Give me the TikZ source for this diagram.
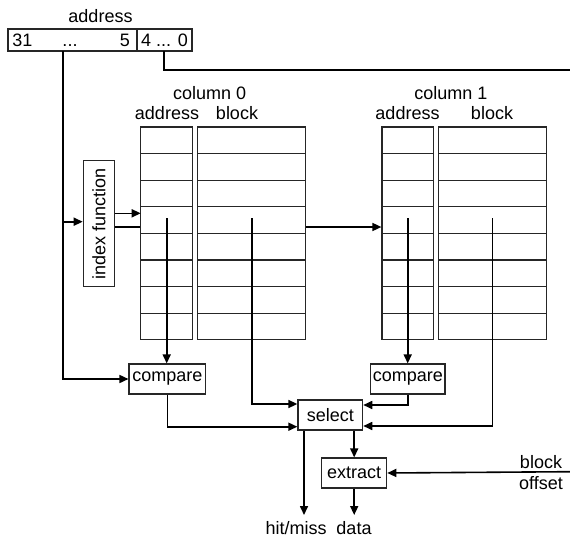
\documentclass[tikz,border=0pt]{standalone}
\usepackage{fontspec}
\setmainfont{Liberation Sans}
\usetikzlibrary{arrows.meta}
\begin{document}
\begin{tikzpicture}[x=1pt,y=-1pt,
  every node/.style={font=\fontsize{18}{21}\selectfont},
  lbl/.style={inner sep=0pt,text height=13pt,text depth=0pt},
  cell/.style={draw=black!85,line width=1.1pt,fill=white,inner sep=0pt,minimum height=26.6pt},
  boxn/.style={draw=black!85,line width=1.2pt,fill=white,inner sep=0pt,minimum height=30pt},
  conn/.style={line width=1.6pt},
  arr/.style={conn,-{Triangle[length=9pt,width=8pt]}}]
\useasboundingbox (0,0) rectangle (570,538);
% address register
\node[lbl] (addrlbl) at (100.5,16) {address};
\node[draw=black!85,line width=1.2pt,inner sep=0pt,minimum width=129pt,minimum height=22pt] (addrL) at (72.5,40) {};
\node[draw=black!85,line width=1.2pt,inner sep=0pt,minimum width=55pt,minimum height=22pt] (addrR) at (164.5,40) {};
\node[lbl] (t31) at (22.5,40) {31};
\node[lbl] (tdots) at (70,40) {...};
\node[lbl] (t5) at (125,40) {5};
\node[lbl] (t40) at (164.5,40) {4 ... 0};
% index function
\node[boxn,rotate=90,minimum width=126pt,minimum height=31.4pt] (idx) at (99,223.7) {index function};
% line behind columns
\draw[conn] (idx.south |- 0,227) -- (140.7,227) coordinate (a0in);
% columns
\foreach \i in {0,...,7}{
  \node[cell,minimum width=52pt] (a0-\i) at (166.7,140.3+26.6*\i) {};
  \node[cell,minimum width=108pt] (b0-\i) at (251.7,140.3+26.6*\i) {};
  \node[cell,minimum width=51.7pt] (a1-\i) at (407.8,140.3+26.6*\i) {};
  \node[cell,minimum width=107.6pt] (b1-\i) at (492.5,140.3+26.6*\i) {};
}
\node[lbl] (c0lbl) at (209.7,93) {column 0};
\node[lbl] (a0lbl) at (167,113) {address};
\node[lbl] (b0lbl) at (237,113) {block};
\node[lbl] (c1lbl) at (451,93) {column 1};
\node[lbl] (a1lbl) at (407.5,113) {address};
\node[lbl] (b1lbl) at (492,113) {block};
% boxes
\node[boxn,minimum width=76.7pt] (cmp0) at (167.4,379) {compare};
\node[boxn,minimum width=74.3pt] (cmp1) at (407.9,379) {compare};
\node[boxn,minimum width=64.7pt] (sel) at (330.3,415) {select};
\node[boxn,minimum width=65pt] (ext) at (354.2,473) {extract};
% outputs
\node[lbl] (hm) at (296,528) {hit/miss};
\node[lbl] (dat) at (354,528) {data};
\node[lbl] (blk) at (541,462) {block};
\node[lbl] (off) at (541,483) {offset};
% coordinates
\coordinate (topright) at (570,70);
\coordinate (offin) at (570,471.7);
\coordinate (a0s) at (166.7,218);
\coordinate (b0s) at (251.7,218);
\coordinate (a1s) at (407.7,218);
\coordinate (b1s) at (492.3,218);
% connectors
\draw[arr] (63,51) coordinate (tagout) -- (tagout |- cmp0.west) -- (cmp0.west);
\draw[arr] (tagout |- 0,221.7) -- (idx.north |- 0,221.7);
\draw[conn] (164,51) coordinate (offout) -- (offout |- topright) -- (topright);
\draw[arr] (idx.south |- 0,213.3) -- (140.7,213.3);
\draw[arr] (b0-3.east |- 0,227) -- (a1-3.west |- 0,227);
\draw[arr] (a0s) -- (a0s |- cmp0.north);
\draw[arr] (b0s) -- (b0s |- 0,404) -- (sel.west |- 0,404);
\draw[arr] (cmp0.south) -- (cmp0.south |- 0,426.7) -- (sel.west |- 0,426.7);
\draw[arr] (a1s) -- (a1s |- cmp1.north);
\draw[arr] (cmp1.south) -- (cmp1.south |- 0,405) -- (sel.east |- 0,405);
\draw[arr] (b1s) -- (b1s |- 0,426) -- (sel.east |- 0,426);
\draw[arr] (sel.south -| ext.north) -- (ext.north);
\draw[arr] (sel.south -| 304,0) -- (304,515);
\draw[arr] (ext.south) -- (ext.south |- 0,515);
\draw[arr] (offin) -- (ext.east);
\end{tikzpicture}
\end{document}
